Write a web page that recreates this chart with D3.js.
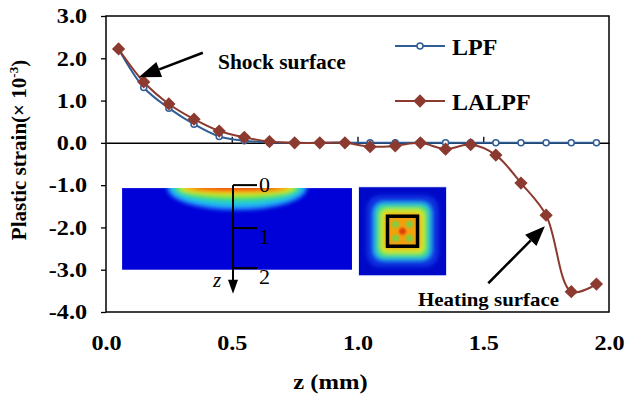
<!DOCTYPE html>
<html>
<head>
<meta charset="utf-8">
<script src="https://cdn.jsdelivr.net/npm/d3@7"></script>
<style>
  body { margin: 0; background: #fff; }
  text { font-family: "Liberation Serif", "Times New Roman", serif; fill: #000; }
</style>
</head>
<body>
<svg id="chart" width="628" height="394"></svg>
<script>
// depth positions (mm)
const zValues = [0.05, 0.15, 0.25, 0.35, 0.45, 0.55, 0.65, 0.75, 0.85, 0.95,
                 1.05, 1.15, 1.25, 1.35, 1.45, 1.55, 1.65, 1.75, 1.85, 1.95];
// plastic strain (x 10^-3)
const lpfValues = [2.22, 1.31, 0.82, 0.44, 0.15, 0.05, 0.01, 0, 0, 0,
                   0, 0, 0, 0, 0, 0, 0, 0, 0, 0];
const lalpfValues = [2.22, 1.44, 0.92, 0.56, 0.28, 0.13, 0.03, 0, 0, 0,
                     -0.09, -0.07, 0, -0.15, -0.04, -0.29, -0.95, -1.71, -3.52, -3.34];
const seriesNames = ["LPF", "LALPF"];
const xTickValues = [0, 0.5, 1.0, 1.5, 2.0];
const yTickValues = [-4, -3, -2, -1, 0, 1, 2, 3];
const depthLabels = ["0", "1", "2"];

const W = 628, H = 394;
const margin = {top: 16, right: 19, bottom: 82, left: 106};
const blue = "#2f5d96", red = "#8c3a30";
const serif = '"Liberation Serif", "Times New Roman", serif';

const svg = d3.select("#chart");

const x = d3.scaleLinear().domain([0, 2]).range([margin.left, W - margin.right]);
const y = d3.scaleLinear().domain([-4, 3]).range([H - margin.bottom, margin.top]);

// stretch text a bit, the original labels are wider than plain Times
function widen(sel, k) {
  sel.each(function() {
    const n = this.getComputedTextLength();
    d3.select(this).attr("textLength", n * k).attr("lengthAdjust", "spacingAndGlyphs");
  });
}

const defs = svg.append("defs");
defs.append("filter").attr("id", "blur").attr("x", "-20%").attr("y", "-20%")
  .attr("width", "140%").attr("height", "140%")
  .append("feGaussianBlur").attr("stdDeviation", 2);
defs.append("filter").attr("id", "blurS")
  .append("feGaussianBlur").attr("stdDeviation", 1.2);

// ---- inset 1: cross section with depth axis
const in1 = {x0: x(0.064), x1: x(0.978), y0: y(-1.07), y1: y(-3.0)};
defs.append("clipPath").attr("id", "clip1").append("rect")
  .attr("x", in1.x0).attr("y", in1.y0)
  .attr("width", in1.x1 - in1.x0).attr("height", in1.y1 - in1.y0);
const g1 = svg.append("g");
g1.append("rect").attr("x", in1.x0).attr("y", in1.y0)
  .attr("width", in1.x1 - in1.x0).attr("height", in1.y1 - in1.y0)
  .attr("fill", "#0000d8");
const cx1 = in1.x0 + 115;
const heat1 = g1.append("g").attr("clip-path", "url(#clip1)")
  .append("g").attr("filter", "url(#blur)");
[
  {rx: 70, ry: 22, c: "#2090ff"},
  {rx: 66, ry: 18, c: "#22c8e0"},
  {rx: 62, ry: 13, c: "#40e050"},
  {rx: 58, ry: 8, c: "#d0f020"},
  {rx: 53, ry: 5, c: "#ff9800"},
  {rx: 44, ry: 2.5, c: "#f03a10"}
].forEach(l => {
  heat1.append("ellipse").attr("cx", cx1).attr("cy", in1.y0)
    .attr("rx", l.rx).attr("ry", l.ry).attr("fill", l.c);
});
// depth axis drawn on the section
const ax = x(0.505);
const depthY = [in1.y0 - 3, in1.y0 + 40, in1.y0 + 80];
g1.append("line").attr("x1", ax).attr("x2", ax)
  .attr("y1", depthY[0]).attr("y2", in1.y1 + 12)
  .attr("stroke", "#000").attr("stroke-width", 2);
g1.append("path")
  .attr("d", `M${ax - 5},${in1.y1 + 10}L${ax + 5},${in1.y1 + 10}L${ax},${in1.y1 + 24}Z`)
  .attr("fill", "#000");
depthY.forEach((yy, i) => {
  g1.append("line").attr("x1", ax).attr("x2", ax + 24).attr("y1", yy).attr("y2", yy)
    .attr("stroke", "#000").attr("stroke-width", 2);
  g1.append("text").attr("x", ax + 26).attr("y", yy + (i === 0 ? 7 : 16))
    .attr("font-size", 22).text(depthLabels[i]);
});
g1.append("text").attr("x", ax - 20).attr("y", in1.y1 + 17)
  .attr("font-size", 21).attr("font-style", "italic").text("z");

// ---- inset 2: heated surface view
const in2 = {x0: x(1.006), x1: x(1.352), y0: y(-1.05), y1: y(-3.13)};
const c2x = (in2.x0 + in2.x1) / 2, c2y = (in2.y0 + in2.y1) / 2;
defs.append("clipPath").attr("id", "clip2").append("rect")
  .attr("x", in2.x0).attr("y", in2.y0)
  .attr("width", in2.x1 - in2.x0).attr("height", in2.y1 - in2.y0);
const g2 = svg.append("g");
g2.append("rect").attr("x", in2.x0 - 1).attr("y", in2.y0 - 1)
  .attr("width", in2.x1 - in2.x0 + 2).attr("height", in2.y1 - in2.y0 + 2)
  .attr("fill", "#dfe6ff");
g2.append("rect").attr("x", in2.x0).attr("y", in2.y0)
  .attr("width", in2.x1 - in2.x0).attr("height", in2.y1 - in2.y0)
  .attr("fill", "#0008c8");
const heat2 = g2.append("g").attr("clip-path", "url(#clip2)")
  .append("g").attr("filter", "url(#blur)");
[
  {h: 36, c: "#1030e0", r: 14},
  {h: 29, c: "#28b8f0", r: 10},
  {h: 26, c: "#40e060", r: 8},
  {h: 22, c: "#d8ec20", r: 6},
  {h: 18, c: "#f4a010", r: 3}
].forEach(l => {
  heat2.append("rect").attr("x", c2x - l.h).attr("y", c2y - l.h)
    .attr("width", 2 * l.h).attr("height", 2 * l.h)
    .attr("rx", l.r).attr("fill", l.c);
});
const spots = g2.append("g").attr("filter", "url(#blurS)");
[[-7, -7], [7, -7], [-7, 7], [7, 7]].forEach(p => {
  spots.append("circle").attr("cx", c2x + p[0]).attr("cy", c2y + p[1])
    .attr("r", 3.5).attr("fill", "#7cd040");
});
spots.append("circle").attr("cx", c2x).attr("cy", c2y).attr("r", 3.5).attr("fill", "#e04010");
g2.append("rect").attr("x", c2x - 15).attr("y", c2y - 15)
  .attr("width", 30).attr("height", 30)
  .attr("fill", "none").attr("stroke", "#000").attr("stroke-width", 3.5);

// ---- frame
svg.append("rect")
  .attr("x", x(0)).attr("y", y(3))
  .attr("width", x(2) - x(0)).attr("height", y(-4) - y(3))
  .attr("fill", "none").attr("stroke", "#000").attr("stroke-width", 1.5);

// y axis
const yAxis = svg.append("g")
  .attr("transform", `translate(${x(0)},0)`)
  .call(d3.axisLeft(y).tickValues(yTickValues).tickFormat(d => d.toFixed(1))
    .tickSize(5).tickSizeOuter(0).tickPadding(14))
  .attr("font-family", serif).attr("font-size", 21).attr("font-weight", "bold");
yAxis.select(".domain").remove();
yAxis.selectAll("line").attr("stroke", "#000").attr("stroke-width", 1.3);
yAxis.selectAll("text").attr("fill", "#000").call(widen, 1.15);

// zero line with small ticks
const zeroAxis = svg.append("g")
  .attr("transform", `translate(0,${y(0)})`)
  .call(d3.axisBottom(x).tickValues(xTickValues.slice(1, 4)).tickFormat("")
    .tickSize(-6).tickSizeOuter(0));
zeroAxis.select(".domain").attr("stroke", "#000").attr("stroke-width", 1.5);
zeroAxis.selectAll("line").attr("stroke", "#000").attr("stroke-width", 1.3);

// x tick labels below the frame
const xAxis = svg.append("g")
  .attr("transform", `translate(0,${y(-4)})`)
  .call(d3.axisBottom(x).tickValues(xTickValues).tickFormat(d => d.toFixed(1))
    .tickSize(0).tickPadding(23))
  .attr("font-family", serif).attr("font-size", 21).attr("font-weight", "bold");
xAxis.select(".domain").remove();
xAxis.selectAll("text").attr("fill", "#000").call(widen, 1.15);

// axis titles
svg.append("text")
  .attr("x", (x(0) + x(2)) / 2 - 27).attr("y", 389)
  .attr("text-anchor", "middle").attr("font-size", 21).attr("font-weight", "bold")
  .text("z (mm)").call(widen, 1.17);

const yTitle = svg.append("text")
  .attr("transform", "translate(26,150) rotate(-90)")
  .attr("text-anchor", "middle").attr("font-size", 21).attr("font-weight", "bold");
yTitle.append("tspan").text("Plastic strain(\u00d7 10");
yTitle.append("tspan").attr("font-size", 13).attr("dy", -8).text("-3");
yTitle.append("tspan").attr("dy", 8).text(")");

// ---- series
const line = d3.line()
  .x((d, i) => x(zValues[i]))
  .y(d => y(d))
  .curve(d3.curveCatmullRom.alpha(0.5));

svg.append("path").datum(lpfValues)
  .attr("d", line).attr("fill", "none").attr("stroke", blue).attr("stroke-width", 2);
svg.append("g").selectAll("circle").data(lpfValues).join("circle")
  .attr("cx", (d, i) => x(zValues[i])).attr("cy", d => y(d)).attr("r", 3)
  .attr("fill", "#fff").attr("stroke", blue).attr("stroke-width", 1.5);

const diamond = d3.symbol(d3.symbolSquare, 88);
svg.append("path").datum(lalpfValues)
  .attr("d", line).attr("fill", "none").attr("stroke", red).attr("stroke-width", 2);
svg.append("g").selectAll("path").data(lalpfValues).join("path")
  .attr("d", diamond)
  .attr("transform", (d, i) => `translate(${x(zValues[i])},${y(d)}) rotate(45)`)
  .attr("fill", red);

// ---- legend
const legendY = [46, 101];
const legend = svg.append("g");
seriesNames.forEach((name, i) => {
  const ly = legendY[i];
  const col = i === 0 ? blue : red;
  legend.append("line").attr("x1", 395).attr("x2", 445).attr("y1", ly).attr("y2", ly)
    .attr("stroke", col).attr("stroke-width", 2);
  if (i === 0) {
    legend.append("circle").attr("cx", 420).attr("cy", ly).attr("r", 3)
      .attr("fill", "#fff").attr("stroke", blue).attr("stroke-width", 1.5);
  } else {
    legend.append("path").attr("d", diamond)
      .attr("transform", `translate(420,${ly}) rotate(45)`).attr("fill", red);
  }
  legend.append("text").attr("x", 452).attr("y", ly + 8.5)
    .attr("font-size", 24).attr("font-weight", "bold").text(name);
});

// ---- annotations
function arrow(from, to, headLen, headW) {
  const x1 = x(from[0]), y1 = y(from[1]), x2 = x(to[0]), y2 = y(to[1]);
  const a = Math.atan2(y2 - y1, x2 - x1);
  const bx = x2 - headLen * Math.cos(a), by = y2 - headLen * Math.sin(a);
  const px = -Math.sin(a) * headW, py = Math.cos(a) * headW;
  svg.append("line").attr("x1", x1).attr("y1", y1).attr("x2", bx).attr("y2", by)
    .attr("stroke", "#000").attr("stroke-width", 2.5);
  svg.append("path")
    .attr("d", `M${x2},${y2}L${bx + px},${by + py}L${bx - px},${by - py}Z`)
    .attr("fill", "#000");
}
arrow([0.385, 2.13], [0.13, 1.55], 22, 8);
arrow([1.52, -3.32], [1.745, -1.97], 20, 8);

svg.append("text").attr("x", 218).attr("y", 69)
  .attr("font-size", 20).attr("font-weight", "bold")
  .text("Shock surface").call(widen, 1.07);
svg.append("text").attr("x", 418).attr("y", 306)
  .attr("font-size", 19).attr("font-weight", "bold")
  .text("Heating surface").call(widen, 1.1);
</script>
</body>
</html>
